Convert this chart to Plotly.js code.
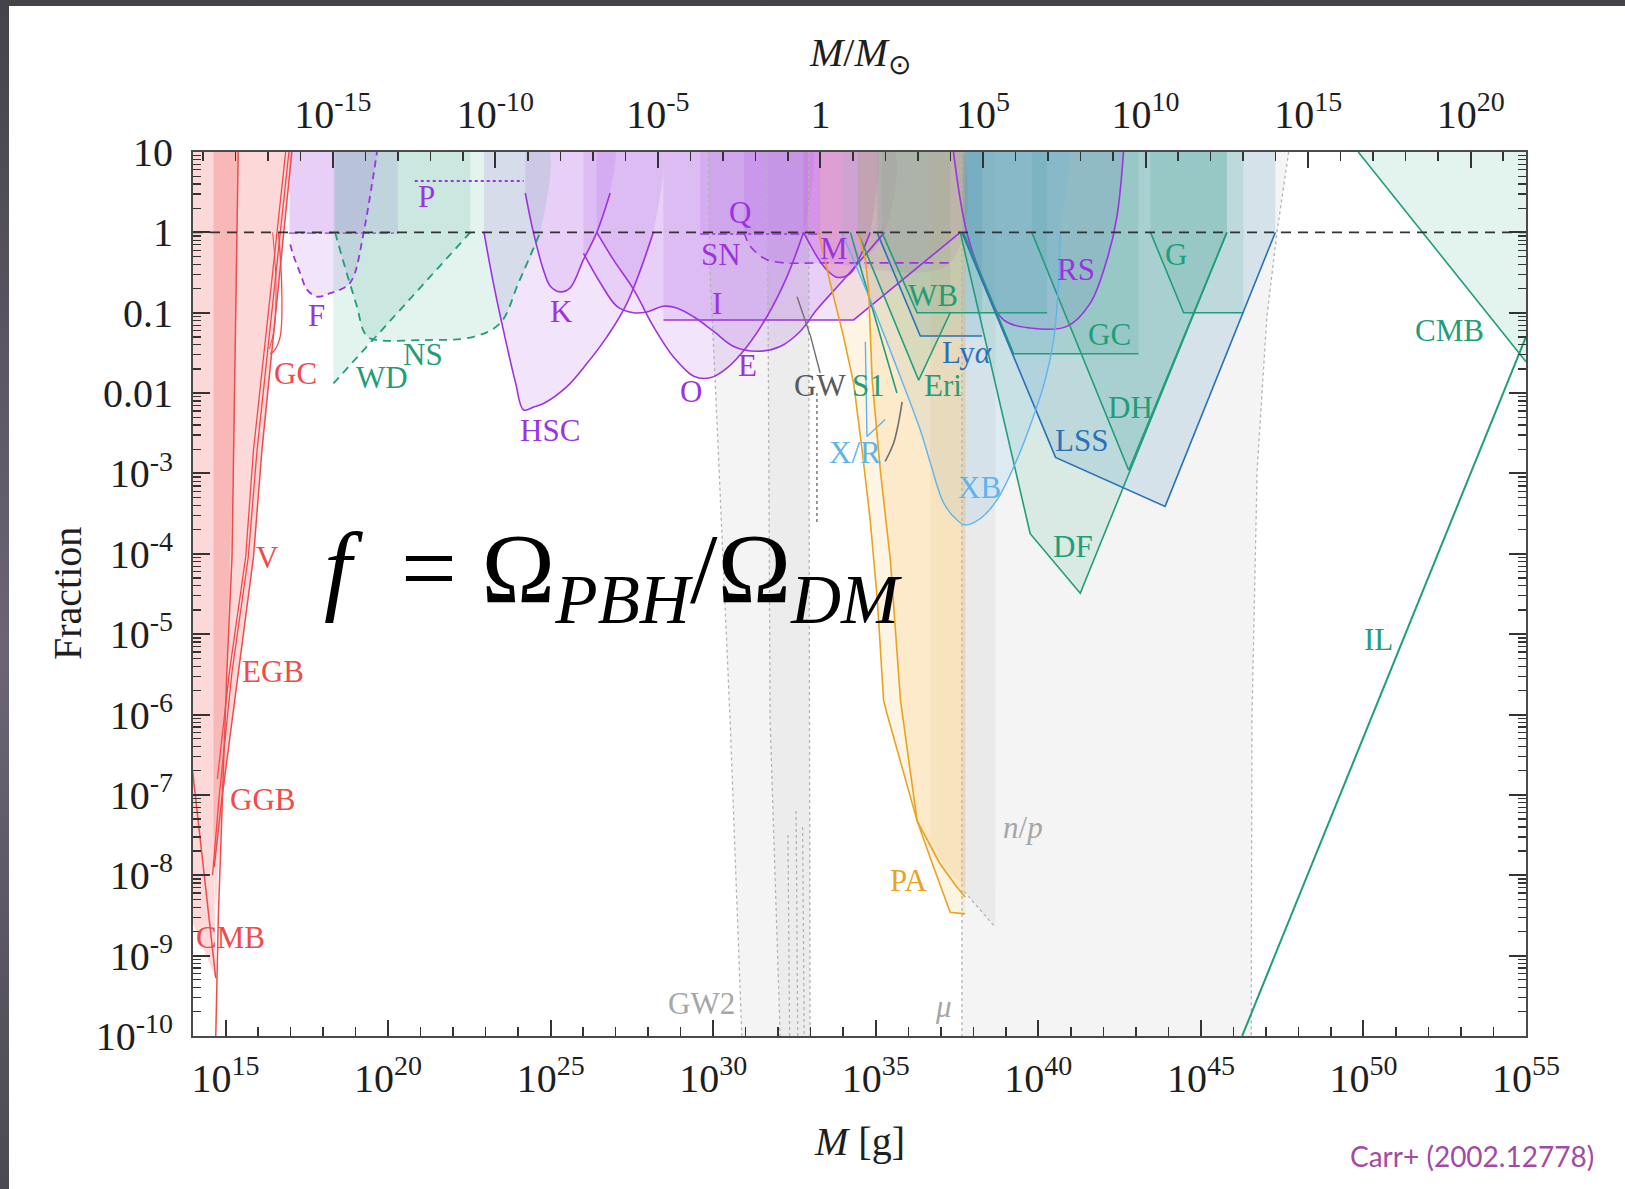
<!DOCTYPE html>
<html><head><meta charset="utf-8">
<script src="https://cdn.plot.ly/plotly-3.0.1.min.js"></script>
<style>
html,body{margin:0;padding:0;width:1625px;height:1189px;overflow:hidden;
background:linear-gradient(180deg,#444349 0%,#5a5662 30%,#6b6575 55%,#4b4a51 100%);}
#chart{position:absolute;left:9px;top:6px;width:1616px;height:1183px;background:#fff;}
</style></head><body><div id="chart"></div><script>
// All positions are log10(M / g) and log10(f)
const SUN_LOG = 33.30;

// ---------- tick labels
const XB_exp = [15,20,25,30,35,40,45,50,55];
const XB_text = ['10<sup>15</sup>','10<sup>20</sup>','10<sup>25</sup>','10<sup>30</sup>','10<sup>35</sup>','10<sup>40</sup>','10<sup>45</sup>','10<sup>50</sup>','10<sup>55</sup>'];
const XT_exp = [-15,-10,-5,0,5,10,15,20];
const XT_text = ['10<sup>-15</sup>','10<sup>-10</sup>','10<sup>-5</sup>','1','10<sup>5</sup>','10<sup>10</sup>','10<sup>15</sup>','10<sup>20</sup>'];
const Y_exp = [1,0,-1,-2,-3,-4,-5,-6,-7,-8,-9,-10];
const Y_text = ['10','1','0.1','0.01','10<sup>-3</sup>','10<sup>-4</sup>','10<sup>-5</sup>','10<sup>-6</sup>','10<sup>-7</sup>','10<sup>-8</sup>','10<sup>-9</sup>','10<sup>-10</sup>'];

// ---------- evaporation (red)
const RedLight_lx = [14.0,17.04,16.12,15.86,15.40,14.89,14.65,14.70,14.0];
const RedLight_ly = [1.0,1.0,-2.71,-4.04,-5.47,-7.04,-7.90,-9.28,-8.60];
const RedDark_lx = [14.63,15.39,15.25,15.04,14.90,14.70,14.63];
const RedDark_ly = [1.0,1.0,-2.71,-5.47,-7.04,-8.50,-7.50];
const Ra_lx = [15.39,15.25,15.20,15.04,14.90,14.78,14.70];
const Ra_ly = [1.0,-2.71,-4.04,-5.47,-7.04,-8.50,-10.0];
const Rb_lx = [17.04,16.12,15.86,15.40,14.89,14.65];
const Rb_ly = [1.0,-2.71,-4.04,-5.47,-7.04,-7.90];
const Rc_lx = [16.95,15.97,15.70,15.20,14.80,14.60];
const Rc_ly = [1.0,-2.71,-4.04,-5.47,-7.04,-8.00];
const Rd_lx = [16.85,15.86,15.62,15.12,14.75];
const Rd_ly = [1.0,-2.71,-4.04,-5.47,-6.80];
const RCMB_lx = [13.99,14.70];
const RCMB_ly = [-6.71,-9.28];
const RGC1_lx = [16.63,16.73,16.68,16.48,16.37];
const RGC1_ly = [0.0,-0.71,-1.30,-1.48,-1.51];
const RGC2_lx = [16.45,16.55,16.50,16.35];
const RGC2_ly = [0.0,-0.60,-1.20,-1.45];

// ---------- lensing etc. (purple)
const F_lx = [16.99,17.10,17.30,17.50,17.81,18.20,18.73,18.94,19.25,19.66];
const F_ly = [-0.15,-0.30,-0.51,-0.71,-0.80,-0.76,-0.67,-0.55,0.00,1.00];
const FD_lx = [16.95,20.30];
const FD_ly = [-0.01,-0.01];
const P_lx = [20.82,24.17];
const P_ly = [0.64,0.64];
const HSC_lx = [22.95,23.20,23.51,23.92,24.17,24.50,24.78,25.50,26.12,26.73,27.35,28.16];
const HSC_ly = [0.00,-0.55,-1.15,-1.87,-2.21,-2.17,-2.13,-1.92,-1.63,-1.30,-0.88,0.00];
const K_lx = [24.22,24.47,24.78,24.99,25.30,25.60,26.01,26.42,26.83];
const K_ly = [0.49,0.00,-0.47,-0.67,-0.74,-0.69,-0.34,0.00,0.49];
const E_lx = [26.01,26.53,27.04,27.55,27.96,28.47,28.88,29.40,30.01,30.63,31.35,32.06,32.68,33.19,34.01,35.27];
const E_ly = [-0.26,-0.63,-0.92,-1.00,-0.99,-0.92,-0.94,-1.05,-1.23,-1.42,-1.48,-1.42,-1.23,-0.96,-0.59,0.00];
const O_lx = [26.42,26.93,27.55,28.16,28.78,29.40,29.91,30.42,31.04,31.65,32.27,32.78];
const O_ly = [0.00,-0.34,-0.71,-1.17,-1.55,-1.79,-1.81,-1.69,-1.42,-1.05,-0.55,0.00];
const I_lx = [28.47,34.32,37.60];
const I_ly = [-1.09,-1.09,0.00];
const SN_lx = [30.95,31.10,31.35,31.65,32.16,33.30,37.29];
const SN_ly = [0.00,-0.15,-0.26,-0.34,-0.38,-0.38,-0.38];
const Q_lx = [29.60,33.30];
const Q_ly = [-0.02,-0.02];
const M_lx = [32.78,33.19,33.50,33.81,34.22,34.52,34.83];
const M_ly = [0.00,-0.30,-0.47,-0.56,-0.51,-0.30,0.00];
const RS_lx = [37.39,37.80,38.42,38.93,39.75,40.88,41.60,42.11,42.42,42.62];
const RS_ly = [1.00,0.00,-0.71,-1.09,-1.19,-1.17,-0.88,-0.34,0.20,1.00];

// ---------- dynamical / accretion (green, blue)
const NS_lx = [18.37,18.73,19.04,19.25,19.45,21.09,22.63,23.45,24.01,24.68];
const NS_ly = [0.00,-0.51,-0.92,-1.23,-1.32,-1.34,-1.30,-1.13,-0.63,0.00];
const WD_lx = [18.32,22.53];
const WD_ly = [-1.88,0.00];
const WB_lx = [35.19,36.27,40.27];
const WB_ly = [0.00,-1.00,-1.00];
const LYA_lx = [35.04,36.37,38.27];
const LYA_ly = [0.00,-1.29,-1.29];
const ERI_lx = [34.45,36.32,37.29];
const ERI_ly = [0.00,-1.84,-1.00];
const S1_lx = [34.22,35.65];
const S1_ly = [0.00,-2.00];
const DF_lx = [37.60,39.75,41.29,45.80];
const DF_ly = [0.00,-3.75,-4.49,0.00];
const DH_lx = [39.80,42.78,45.80];
const DH_ly = [0.00,-2.96,0.00];
const GCG_lx = [37.70,39.24,43.08];
const GCG_ly = [0.00,-1.51,-1.51];
const G_lx = [43.45,44.47,46.31];
const G_ly = [0.00,-1.00,-1.00];
const LSS_lx = [37.65,40.53,43.90,47.29];
const LSS_ly = [0.00,-2.80,-3.41,0.00];
const CMBG_lx = [49.84,55.0,55.0];
const CMBG_ly = [1.00,-1.61,1.00];
const IL_lx = [46.27,55.0];
const IL_ly = [-10.0,-1.30];

// ---------- X-ray (light blue)
const XB_lx = [33.96,34.83,35.75,36.37,36.68,37.09,37.50,37.75,38.22,38.73,39.34,39.85,40.21,40.47,40.61,40.67];
const XB_ly = [-0.01,-0.84,-1.79,-2.46,-2.87,-3.37,-3.58,-3.64,-3.56,-3.33,-2.83,-2.29,-1.84,-1.34,-0.71,-0.01];
const XR_lx = [34.68,34.73,35.29];
const XR_ly = [-1.36,-2.54,-2.33];

// ---------- PA (orange)
const PA1_lx = [33.24,33.60,34.01,34.32,34.58,34.83,35.05,35.24,35.34,36.27,36.78,37.29,37.75];
const PA1_ly = [0.00,-0.63,-1.30,-1.88,-2.71,-3.58,-4.58,-5.82,-5.98,-7.32,-7.90,-8.46,-8.48];
const PA2_lx = [34.47,34.68,34.78,34.89,35.14,35.45,35.76,36.27,36.98,37.50,37.75];
const PA2_ly = [0.00,-0.34,-0.71,-1.84,-2.96,-4.08,-5.82,-7.32,-7.86,-8.15,-8.27];
const PA3_lx = [36.68,36.68,37.75,37.75];
const PA3_ly = [1.00,-7.75,-8.15,1.00];

// ---------- GW and CMB distortions (gray)
const GWA_lx = [29.85,29.90,30.06,30.52,30.88,32.98,32.93];
const GWA_ly = [1.00,-0.50,-1.84,-6.07,-10.0,-10.0,1.00];
const GWB_lx = [31.65,31.70,31.75,32.06,32.98,32.93];
const GWB_ly = [1.00,-1.84,-6.07,-10.0,-10.0,1.00];
const MU_lx = [37.65,37.65,46.55,46.57,46.73,47.03,47.34,47.70];
const MU_ly = [1.00,-10.0,-10.0,-6.07,-2.96,-1.05,0.00,1.00];
const NP_lx = [37.72,37.72,38.68,38.68];
const NP_ly = [1.00,-8.20,-8.65,1.00];
const GW_lx = [32.58,33.00,33.29];
const GW_ly = [-0.80,-1.30,-1.75];
const GWV_lx = [33.19,33.19];
const GWV_ly = [-2.00,-3.62];
const GWC_lx = [35.81,35.70,35.55,35.29];
const GWC_ly = [-2.11,-2.37,-2.62,-2.85];
const DOTS = [
  {lx:[29.85,29.90,30.06,30.52,30.88], ly:[1.00,-0.50,-1.84,-6.07,-10.0]},
  {lx:[31.65,31.70,31.75,32.06], ly:[1.00,-1.84,-6.07,-10.0]},
  {lx:[32.93,32.98], ly:[1.00,-10.0]},
  {lx:[32.30,32.35], ly:[-7.50,-10.0]},
  {lx:[32.55,32.60], ly:[-7.20,-10.0]},
  {lx:[32.75,32.80], ly:[-7.40,-10.0]},
  {lx:[37.65,37.65], ly:[1.00,-10.0]},
  {lx:[47.70,47.34,47.03,46.73,46.57,46.55], ly:[1.00,0.00,-1.05,-2.96,-6.07,-10.0]},
  {lx:[37.72,38.68], ly:[-8.20,-8.65]}
];

// ---------- labels
const LBL_text = ['P','Q','SN','M','F','K','I','RS','G','WB','GC','CMB','GC','WD','NS','Ly<i>α</i>','E','O','GW','S1','Eri','DH','HSC','LSS','X/R','XB','DF','V','EGB','GGB','CMB','IL','<i>n</i>/<i>p</i>','PA','GW2','<i>μ</i>'];
const LBL_lx = [21.17,30.83,30.23,33.73,17.79,25.32,30.13,41.16,44.25,36.76,42.18,52.64,17.16,19.80,21.08,37.81,31.05,29.33,33.29,34.78,37.08,42.82,24.97,41.32,34.37,38.19,41.06,16.30,16.45,16.14,15.15,50.47,39.53,36.00,29.65,37.08];
const LBL_ly = [0.445,0.25,-0.27,-0.20,-1.04,-0.98,-0.89,-0.46,-0.27,-0.78,-1.27,-1.22,-1.76,-1.81,-1.52,-1.49,-1.66,-1.98,-1.91,-1.91,-1.91,-2.18,-2.46,-2.59,-2.74,-3.17,-3.91,-4.05,-5.47,-7.06,-8.77,-5.07,-7.41,-8.06,-9.59,-9.63];
const LBL_grp = ['pur','pur','pur','pur','pur','pur','pur','pur','grn','grn','grn','grn','red','grn','grn','blu','pur','pur','dgr','grn','grn','grn','pur','blu','lbl','lbl','grn','red','red','red','red','grn','gry','org','gry','gry'];

// ---------- styles
const LC = {pur:'#9d33e0', grn:'#1f9e78', blu:'#2a72b8', lbl:'#5fb4ec', red:'#f14a4a', org:'#eba21c', gry:'#a6a6a6', dgr:'#5a5a5a'};
const FC = {pur:'rgba(170,80,230,0.15)', mag:'rgba(215,70,215,0.25)', grn:'rgba(27,158,119,0.12)', blu:'rgba(31,119,180,0.14)',
            lbl:'rgba(90,175,235,0.14)', org:'rgba(245,170,40,0.13)', gry:'rgba(120,120,120,0.08)', red:'rgba(240,60,60,0.2)'};
const SERIF = 'Liberation Serif';

const P10 = a => a.map(v => Math.pow(10, v));
const traces = [];
function fillPoly(lx, ly, color, shape){
  traces.push({x:P10(lx), y:P10(ly), mode:'lines', fill:'toself', fillcolor:color,
    line:{width:0, shape:shape||'linear'}, hoverinfo:'skip', showlegend:false});
}
function fillTop(lx, ly, color, shape){
  fillPoly(lx.concat([lx[lx.length-1], lx[0]]), ly.concat([1.3, 1.3]), color, shape);
}
function line(lx, ly, color, dash, shape, width){
  traces.push({x:P10(lx), y:P10(ly), mode:'lines',
    line:{color:color, width:width||1.6, dash:dash||'solid', shape:shape||'linear', smoothing:1},
    hoverinfo:'skip', showlegend:false});
}

// gray regions
fillPoly(GWA_lx, GWA_ly, FC.gry);
fillPoly(GWB_lx, GWB_ly, 'rgba(120,120,120,0.06)');
fillPoly(MU_lx, MU_ly, FC.gry);
fillPoly(NP_lx, NP_ly, 'rgba(120,120,120,0.07)');
// red
fillPoly(RedLight_lx, RedLight_ly, FC.red);
fillPoly(RedDark_lx, RedDark_ly, FC.red);
// purple
fillTop(F_lx, F_ly, FC.pur, 'spline');
fillTop(FD_lx, FD_ly, FC.pur);
fillTop(HSC_lx, HSC_ly, FC.pur, 'spline');
fillTop(K_lx, K_ly, FC.pur, 'spline');
fillTop(E_lx, E_ly, FC.pur, 'spline');
fillTop(O_lx, O_ly, FC.pur, 'spline');
fillTop(I_lx, I_ly, FC.pur);
fillTop(SN_lx, SN_ly, FC.pur, 'spline');
fillTop(Q_lx, Q_ly, FC.pur);
fillTop(M_lx, M_ly, FC.mag, 'spline');
fillPoly(RS_lx, RS_ly, FC.pur, 'spline');
// green / blue
fillTop(NS_lx, NS_ly, FC.grn, 'spline');
fillTop(WD_lx, WD_ly, FC.grn);
fillTop(WB_lx, WB_ly, FC.grn);
fillTop(LYA_lx, LYA_ly, FC.blu);
fillTop(ERI_lx, ERI_ly, FC.grn);
fillTop(DF_lx, DF_ly, FC.grn);
fillTop(DH_lx, DH_ly, FC.grn);
fillTop(GCG_lx, GCG_ly, FC.grn);
fillTop(G_lx, G_ly, FC.grn);
fillTop(LSS_lx, LSS_ly, FC.blu);
fillPoly(CMBG_lx, CMBG_ly, FC.grn);
// light blue
fillTop(XB_lx, XB_ly, FC.lbl, 'spline');
// orange
fillTop(PA1_lx, PA1_ly, FC.org);
fillTop(PA2_lx, PA2_ly, FC.org);
fillPoly(PA3_lx, PA3_ly, 'rgba(210,170,100,0.10)');

// dotted gray boundaries
DOTS.forEach(d => line(d.lx, d.ly, '#b4b4b4', 'dot', 'linear', 1.3));

// lines
line(Ra_lx, Ra_ly, LC.red, 'solid', 'linear', 1.5);
line(Rb_lx, Rb_ly, LC.red, 'solid', 'linear', 1.5);
line(Rc_lx, Rc_ly, LC.red, 'solid', 'linear', 1.3);
line(Rd_lx, Rd_ly, LC.red, 'solid', 'linear', 1.3);
line(RCMB_lx, RCMB_ly, LC.red, 'solid', 'linear', 1.5);
line(RGC1_lx, RGC1_ly, LC.red, 'solid', 'spline', 1.3);
line(RGC2_lx, RGC2_ly, LC.red, 'solid', 'spline', 1.0);

line(F_lx, F_ly, LC.pur, '7px,5px', 'spline', 1.8);
line(FD_lx, FD_ly, LC.pur, 'dashdot', 'linear', 1.4);
line(P_lx, P_ly, LC.pur, 'dot', 'linear', 2);
line(HSC_lx, HSC_ly, LC.pur, 'solid', 'spline');
line(K_lx, K_ly, LC.pur, 'solid', 'spline');
line(E_lx, E_ly, LC.pur, 'solid', 'spline');
line(O_lx, O_ly, LC.pur, 'solid', 'spline');
line(I_lx, I_ly, LC.pur, 'solid', 'linear');
line(SN_lx, SN_ly, LC.pur, '9px,6px', 'spline');
line(Q_lx, Q_ly, LC.pur, 'dashdot', 'linear', 1.4);
line(M_lx, M_ly, LC.pur, 'solid', 'spline');
line(RS_lx, RS_ly, LC.pur, 'solid', 'spline');

line(NS_lx, NS_ly, LC.grn, '8px,6px', 'spline', 1.8);
line(WD_lx, WD_ly, LC.grn, '8px,6px', 'linear', 1.8);
line(WB_lx, WB_ly, LC.grn);
line(LYA_lx, LYA_ly, LC.blu);
line(ERI_lx, ERI_ly, LC.grn);
line(S1_lx, S1_ly, LC.grn);
line(DF_lx, DF_ly, LC.grn);
line(DH_lx, DH_ly, LC.grn);
line(GCG_lx, GCG_ly, LC.grn);
line(G_lx, G_ly, LC.grn);
line(LSS_lx, LSS_ly, LC.blu);
line(CMBG_lx.slice(0,2), CMBG_ly.slice(0,2), LC.grn);
line(IL_lx, IL_ly, LC.grn, 'solid', 'linear', 2);
line(XB_lx, XB_ly, LC.lbl, 'solid', 'spline', 1.4);
line(XR_lx, XR_ly, LC.lbl, 'solid', 'linear', 1.4);
line(PA1_lx, PA1_ly, LC.org, 'solid', 'linear', 1.6);
line(PA2_lx, PA2_ly, LC.org, 'solid', 'linear', 1.6);
line(GW_lx, GW_ly, '#707070', 'solid', 'linear', 1.4);
line(GWV_lx, GWV_ly, '#707070', 'dot', 'linear', 1.4);
line(GWC_lx, GWC_ly, '#707070', 'solid', 'spline', 1.6);

// f = 1 dashed line
line([14, 55], [0, 0], '#333333', '10px,7px', 'linear', 1.6);

// dummy trace for the top axis
traces.push({x:[1e-19,1e21], y:[1e-5,1e-5], xaxis:'x2', mode:'markers', marker:{opacity:0}, hoverinfo:'skip', showlegend:false});

// minor tick positions
const xMinor = [], x2Minor = [], yMinor = [];
for (let e = 14; e <= 55; e++) xMinor.push(Math.pow(10, e));
for (let e = -19; e <= 21; e++) x2Minor.push(Math.pow(10, e));
for (let e = -10; e <= 0; e++) for (let k = 2; k <= 9; k++) yMinor.push(k * Math.pow(10, e));

const tickFont = {family:SERIF, size:40, color:'#1e1e1e'};
const axCommon = {type:'log', ticks:'inside', tickwidth:2, tickcolor:'#333', showline:true, linecolor:'#4a4a4a',
  linewidth:2, showgrid:false, zeroline:false, tickfont:tickFont, tickmode:'array'};

const annotations = LBL_text.map((t, i) => ({x:LBL_lx[i], y:LBL_ly[i], xref:'x', yref:'y', text:t, showarrow:false,
  xanchor:'center', yanchor:'middle', font:{family:SERIF, size:31, color:LC[LBL_grp[i]]}}));
annotations.push({xref:'paper', yref:'paper', x:0.5, y:-0.1195, xanchor:'center', yanchor:'middle', text:'<i>M</i> [g]', showarrow:false,
  font:{family:SERIF, size:40, color:'#1e1e1e'}});
annotations.push({xref:'paper', yref:'paper', x:0.5, y:1.11, xanchor:'center', yanchor:'middle', text:'<i>M</i>/<i>M</i><sub>⊙</sub>', showarrow:false,
  font:{family:SERIF, size:40, color:'#1e1e1e'}});
annotations.push({xref:'paper', yref:'paper', x:-0.0945, y:0.5, xanchor:'center', yanchor:'middle', text:'Fraction', textangle:-90, showarrow:false,
  font:{family:SERIF, size:40, color:'#1e1e1e'}});
annotations.push({xref:'paper', yref:'paper', x:0.315, y:0.52, xanchor:'center', yanchor:'middle',
  text:'<i>f</i>&nbsp;&nbsp;=&nbsp;Ω<sub><i>PBH</i></sub>/Ω<sub><i>DM</i></sub>', showarrow:false,
  font:{family:SERIF, size:99, color:'#000'}});
annotations.push({xref:'paper', yref:'paper', x:0.9595, y:-0.1357, xanchor:'center', yanchor:'middle', text:'Carr+ (2002.12778)', showarrow:false,
  font:{family:'Lato', size:28, color:'#a34aa5'}});

const layout = {
  width:1616, height:1183, margin:{l:184, r:99, t:146, b:153},
  paper_bgcolor:'#ffffff', plot_bgcolor:'rgba(0,0,0,0)', showlegend:false,
  xaxis: Object.assign({}, axCommon, {range:[14,55], tickvals:P10(XB_exp), ticktext:XB_text, ticklen:16, ticklabelstandoff:6,
    mirror:false, minor:{tickmode:'array', tickvals:xMinor, ticks:'inside', ticklen:9, tickwidth:1.5, tickcolor:'#333', showgrid:false}}),
  xaxis2: Object.assign({}, axCommon, {overlaying:'x', side:'top', anchor:'y', range:[14-SUN_LOG, 55-SUN_LOG],
    tickvals:P10(XT_exp), ticktext:XT_text, ticklen:16, ticklabelstandoff:6,
    minor:{tickmode:'array', tickvals:x2Minor, ticks:'inside', ticklen:9, tickwidth:1.5, tickcolor:'#333', showgrid:false}}),
  yaxis: Object.assign({}, axCommon, {range:[-10,1], tickvals:P10(Y_exp), ticktext:Y_text, ticklen:17, ticklabelstandoff:10,
    mirror:'all', minor:{tickmode:'array', tickvals:yMinor, ticks:'inside', ticklen:8, tickwidth:1.3, tickcolor:'#333', showgrid:false}}),
  annotations: annotations
};
Plotly.newPlot('chart', traces, layout, {staticPlot:true, displayModeBar:false});
</script></body></html>
